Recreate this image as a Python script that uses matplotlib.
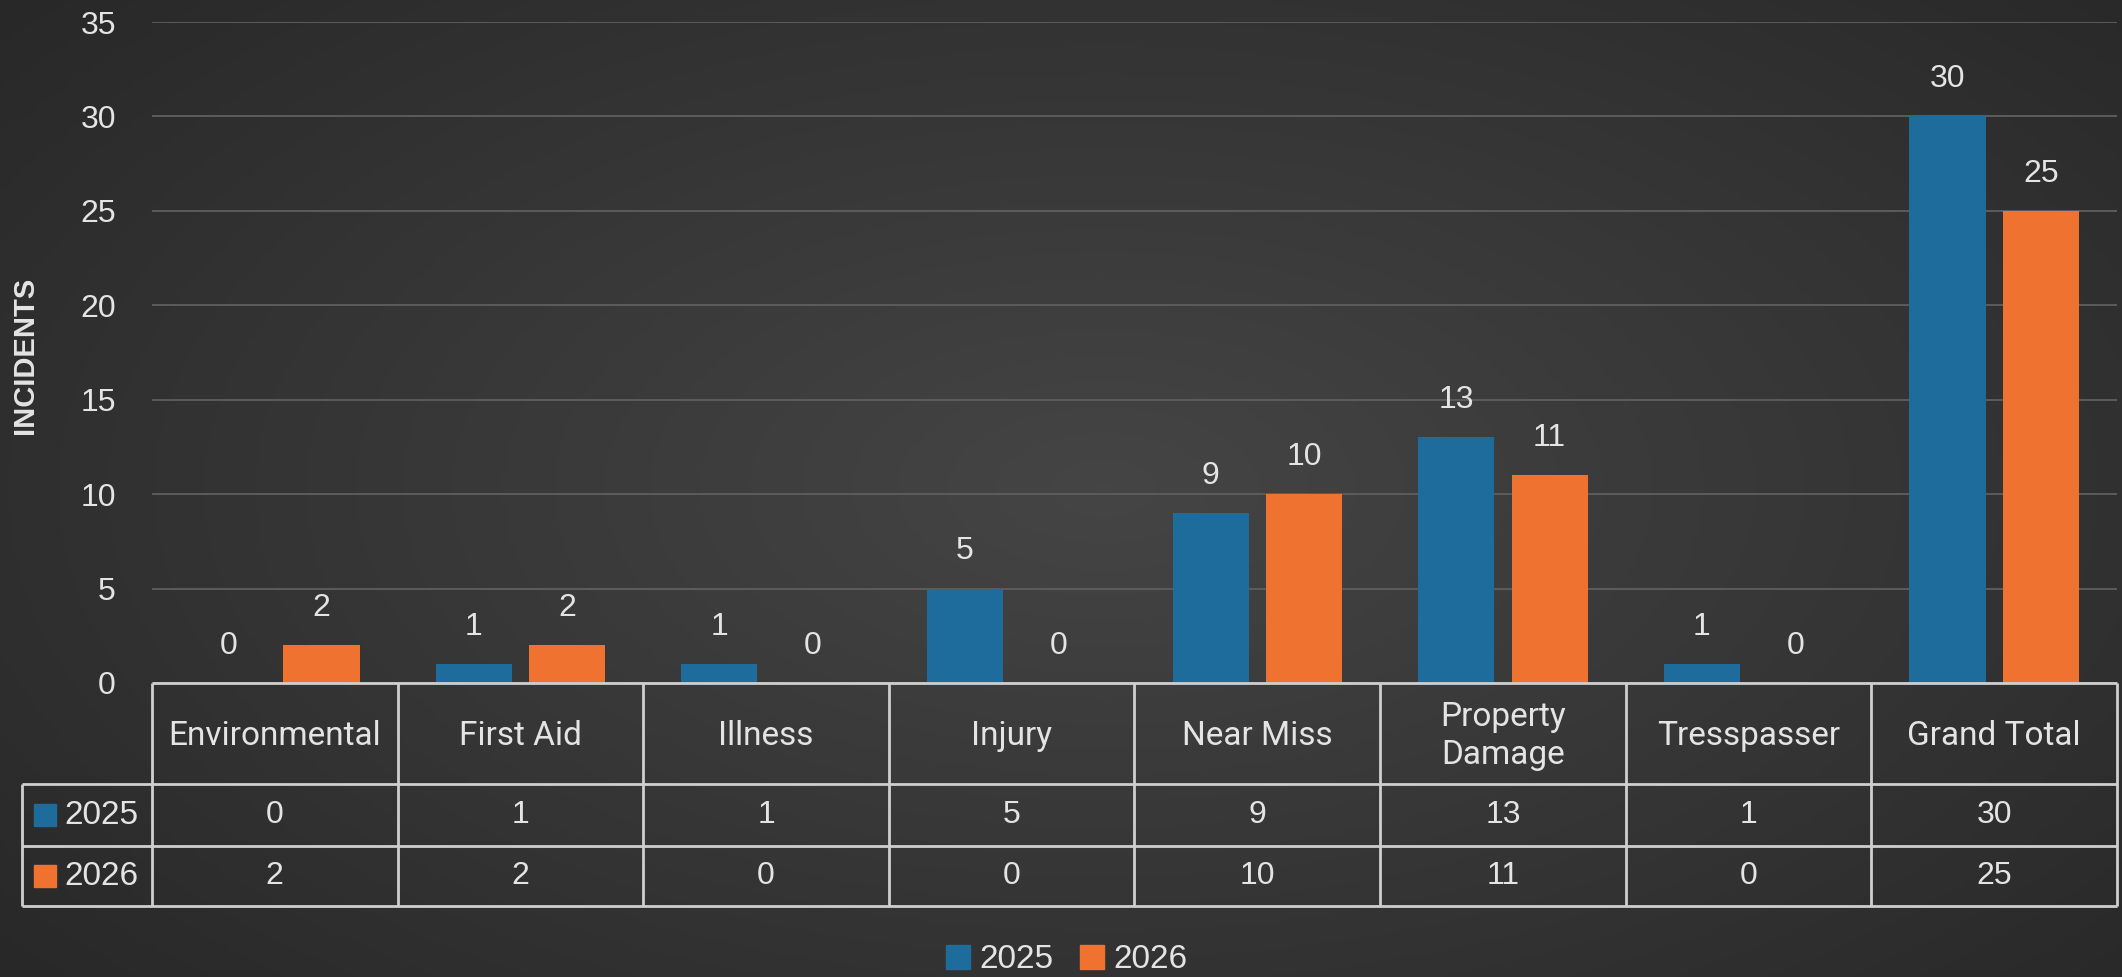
import numpy as np
import matplotlib.pyplot as plt
from matplotlib.patches import Patch
from matplotlib.colors import LinearSegmentedColormap

# incident counts per category
categories = ['Environmental', 'First Aid', 'Illness', 'Injury', 'Near Miss',
              'Property\nDamage', 'Tresspasser', 'Grand Total']
years = ['2025', '2026']
counts_2025 = [0, 1, 1, 5, 9, 13, 1, 30]
counts_2026 = [2, 2, 0, 0, 10, 11, 0, 25]
y_ticks = [0, 5, 10, 15, 20, 25, 30, 35]

blue = '#1e6c9c'
orange = '#f07230'
txt = '#e4e4e4'
line_col = '#cfcfcf'
num_font = 'Liberation Sans'

W, H = 2122, 977
fig = plt.figure(figsize=(W / 100, H / 100), dpi=100)
fig.patch.set_facecolor('#333333')

# dark radial backdrop
bg = fig.add_axes([0, 0, 1, 1], zorder=-10)
yy, xx = np.mgrid[0:1:300j, 0:1:600j]
r = np.sqrt(((xx - 0.52) / 0.75) ** 2 + ((yy - 0.5) / 0.85) ** 2)
shade = np.clip(1 - r, 0, 1)
bg_cmap = LinearSegmentedColormap.from_list('bg', ['#282828', '#454545'])
bg.imshow(shade, cmap=bg_cmap, aspect='auto', extent=[0, 1, 0, 1])
bg.axis('off')

# bar chart
left, right = 152 / W, 2117 / W
bottom, top = 1 - 683 / H, 1 - 22 / H
ax = fig.add_axes([left, bottom, right - left, top - bottom])
ax.set_facecolor('none')

x = np.arange(len(categories))
off, bw = 0.19, 0.31
b1 = ax.bar(x - off, counts_2025, bw, color=blue, zorder=3)
b2 = ax.bar(x + off, counts_2026, bw, color=orange, zorder=3)
for bars, vals in [(b1, counts_2025), (b2, counts_2026)]:
    for rect, v in zip(bars, vals):
        ax.annotate(str(v), (rect.get_x() + rect.get_width() / 2, v),
                    xytext=(0, 21), textcoords='offset points',
                    ha='center', va='baseline', color=txt, fontsize=23,
                    family=num_font)

ax.set_xlim(-0.5, 7.5)
ax.set_ylim(0, 35)
ax.set_yticks(y_ticks)
ax.set_xticks([])
ax.tick_params(axis='y', length=0, pad=26, labelcolor=txt, labelsize=23)
for lab in ax.get_yticklabels():
    lab.set_family(num_font)
ax.grid(axis='y', color='#5c5c5c', lw=1.4, zorder=0)
for s in ax.spines.values():
    s.set_visible(False)

fig.text(25 / W, 1 - 355 / H, 'INCIDENTS', rotation=90, ha='center', va='center',
         color=txt, fontsize=21, fontweight='bold', family=num_font)

# data table under the bars
tl = 22
tax = fig.add_axes([tl / W, 1 - 906 / H, (2117 - tl) / W, (906 - 683) / H])
tax.axis('off')
cw = (2117 - 152) / 8
x_left = -0.5 - (152 - tl) / cw
tax.set_xlim(x_left, 7.5)
tax.set_ylim(906, 683)

rows_y = [683, 784, 846, 906]
tax.hlines(rows_y[0], -0.5, 7.5, color=line_col, lw=2, clip_on=False)
tax.hlines(rows_y[1:], x_left, 7.5, color=line_col, lw=2, clip_on=False)
tax.vlines(np.arange(-0.5, 8, 1), 683, 906, color=line_col, lw=2, clip_on=False)
tax.vlines(x_left, 784, 906, color=line_col, lw=2, clip_on=False)

for i, c in enumerate(categories):
    tax.text(i, 736, c, ha='center', va='center', color=txt, fontsize=24,
             family='Roboto', linespacing=1.25)

row_mid = [815, 876]
for yc, yr, vals, col in zip(row_mid, years, [counts_2025, counts_2026], [blue, orange]):
    for i, v in enumerate(vals):
        tax.text(i, yc, str(v), ha='center', va='center', color=txt,
                 fontsize=23, family=num_font)
    tax.plot(x_left + (45 - tl) / cw, yc, 's', ms=16, color=col, clip_on=False)
    tax.text(x_left + (64 - tl) / cw, yc, yr, ha='left', va='center', color=txt,
             fontsize=24, family=num_font)

handles = [Patch(color=blue, label=years[0]), Patch(color=orange, label=years[1])]
fig.legend(handles=handles, loc='center', bbox_to_anchor=(1067 / W, 1 - 960 / H),
           ncol=2, frameon=False, handlelength=0.7, handleheight=0.7,
           handletextpad=0.3, columnspacing=0.8, borderpad=0,
           prop={'family': num_font, 'size': 24}, labelcolor=txt)

fig.savefig('out.png', dpi=100, facecolor=fig.get_facecolor())
